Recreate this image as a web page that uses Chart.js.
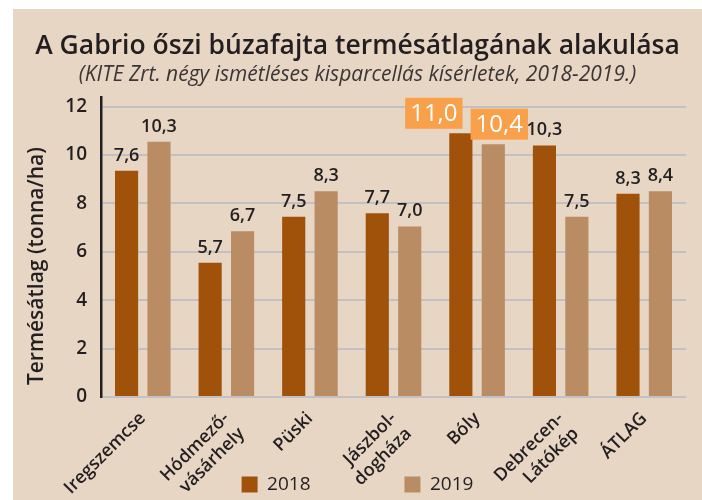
<!DOCTYPE html>
<html>
<head>
<meta charset="utf-8">
<script src="https://cdn.jsdelivr.net/npm/chart.js@4.4.0/dist/chart.umd.min.js"></script>
<style>
  html, body { margin: 0; padding: 0; background: #fff; overflow: hidden; }
  #panel { position: absolute; left: 13px; top: 9px; width: 689px; height: 495px; background: #e8d6c5; }
  canvas { display: block; }
</style>
</head>
<body>
<div id="panel"><canvas id="chart" width="689" height="495"></canvas></div>
<script>
// categories (multi-line ones split the way the original hyphenates them)
const categories = ['Iregszemcse', ['Hódmező-', 'vásárhely'], 'Püski', ['Jászbol-', 'dogháza'], 'Bóly', ['Debrecen-', 'Látókép'], 'ÁTLAG'];
// bar heights as drawn in the picture
const values2018 = [9.35, 5.55, 7.45, 7.6, 10.9, 10.4, 8.4];
const values2019 = [10.55, 6.85, 8.5, 7.05, 10.45, 7.45, 8.5];
// value labels as printed above the bars
const labels2018 = ['7,6', '5,7', '7,5', '7,7', '11,0', '10,3', '8,3'];
const labels2019 = ['10,3', '6,7', '8,3', '7,0', '10,4', '7,5', '8,4'];
const highlighted = [false, false, false, false, true, false, false];
const yTicks = [0, 2, 4, 6, 8, 10, 12];

const textColor = '#231f20';
const font = '"Open Sans", "DejaVu Sans", sans-serif';

// Draws the printed values above each bar; Bóly gets the orange boxes.
const valueLabels = {
  id: 'valueLabels',
  afterDatasetsDraw(chart) {
    const ctx = chart.ctx;
    const texts = [labels2018, labels2019];
    chart.data.datasets.forEach((ds, d) => {
      const meta = chart.getDatasetMeta(d);
      meta.data.forEach((bar, i) => {
        const txt = texts[d][i];
        ctx.save();
        ctx.textAlign = 'center';
        ctx.textBaseline = 'alphabetic';
        if (highlighted[i]) {
          ctx.font = '500 24px ' + font;
          const w = ctx.measureText(txt).width + 10;
          const h = 31;
          const cx = bar.x + (d === 0 ? -27 : 6);
          const bottom = bar.y - 4.5;
          ctx.fillStyle = '#f9a04a';
          ctx.fillRect(cx - w / 2, bottom - h, w, h);
          ctx.fillStyle = '#ffffff';
          ctx.fillText(txt, cx, bottom - 8);
        } else {
          ctx.font = '600 18px ' + font;
          ctx.fillStyle = textColor;
          ctx.fillText(txt, bar.x, bar.y - 10);
        }
        ctx.restore();
      });
    });
  }
};

const data = {
  labels: categories,
  datasets: [
    { label: '2018', data: values2018, backgroundColor: '#a0520b' },
    { label: '2019', data: values2019, backgroundColor: '#ba8c63' }
  ]
};

const config = {
  type: 'bar',
  data: data,
  options: {
    responsive: false,
    animation: false,
    layout: { padding: { left: 16, right: 16, top: 0, bottom: 0 } },
    datasets: { bar: { categoryPercentage: 0.776, barPercentage: 0.714 } },
    plugins: {
      title: {
        display: true,
        text: 'A Gabrio őszi búzafajta termésátlagának alakulása',
        color: textColor,
        font: { family: font, size: 26.5, weight: 600 },
        padding: { top: 22, bottom: 0 }
      },
      subtitle: {
        display: true,
        text: '(KITE Zrt. négy ismétléses kisparcellás kísérletek, 2018-2019.)',
        color: '#3a3536',
        font: { family: font, size: 21, style: 'italic', weight: 400 },
        padding: { top: 0, bottom: 9 }
      },
      legend: {
        position: 'bottom',
        labels: {
          color: textColor,
          font: { family: font, size: 19 },
          boxWidth: 16,
          boxHeight: 16,
          padding: 10,
          generateLabels(chart) {
            const items = Chart.defaults.plugins.legend.labels.generateLabels(chart);
            items.forEach(it => { it.lineWidth = 0; });
            // widen the gap between the two legend entries
            items[0].text = items[0].text + ' '.repeat(17);
            return items;
          }
        }
      },
      tooltip: { enabled: false }
    },
    scales: {
      x: {
        grid: { display: false },
        border: { display: false },
        ticks: {
          color: textColor,
          font: { family: font, size: 18, weight: 600 },
          minRotation: 45,
          maxRotation: 45,
          autoSkip: false,
          padding: 3
        },
        afterFit(scale) {
          scale.height = 68;
          scale.paddingLeft = 0;
          scale.paddingRight = 0;
          // let the rotated labels run below the axis box (legend sits beside them)
          scale._computeLabelArea = () => null;
        }
      },
      y: {
        min: 0,
        max: 12.4,
        ticks: {
          color: textColor,
          font: { family: font, size: 19, weight: 600 },
          padding: 14
        },
        afterBuildTicks(axis) {
          axis.ticks = yTicks.map(v => ({ value: v }));
        },
        afterFit(scale) {
          scale.width = 72;
        },
        grid: { color: '#c3c0c3', lineWidth: 2, drawTicks: false },
        border: { display: true, color: textColor, width: 2.5 },
        title: {
          display: true,
          // trailing spaces push the centred title down the axis like the original
          text: 'Termésátlag (tonna/ha)' + ' '.repeat(7),
          color: textColor,
          font: { family: font, size: 21, weight: 600, lineHeight: 0.8 },
          padding: { top: 0, bottom: 19 }
        }
      }
    }
  },
  plugins: [valueLabels]
};

new Chart(document.getElementById('chart').getContext('2d'), config);
</script>
</body>
</html>
